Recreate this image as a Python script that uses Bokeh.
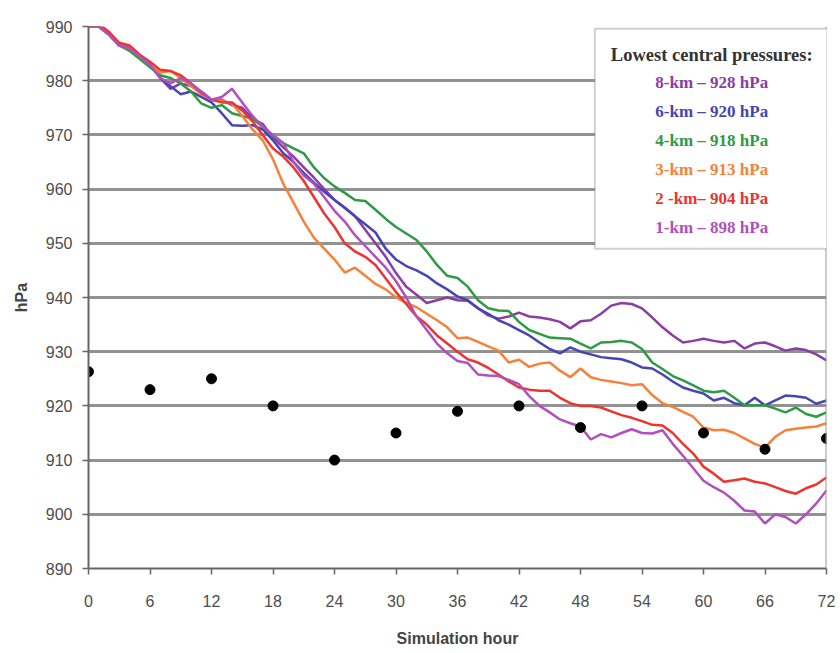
from bokeh.plotting import figure
from bokeh.models import Range1d, FixedTicker, Span, BoxAnnotation, Label
from bokeh.embed import file_html
from bokeh.resources import INLINE

hours = list(range(73))

p_8km = [990, 990, 988.5, 986.5, 986, 984.5, 983, 980.5, 978.5, 979.5, 979, 978, 976.5, 976.5, 975.5, 975,
         973, 972, 969.5, 967.7, 966, 964, 962.1, 960, 958, 956.6, 955, 952.5, 950, 947.5, 944.5, 942,
         940.5, 939, 939.5, 940, 939.5, 939.4, 938, 936.7, 936.1, 936.5, 937.2, 936.5, 936.3, 936, 935.5,
         934.3, 935.6, 935.8, 937, 938.5, 939, 938.8, 938, 936.3, 934.5, 933, 931.7, 932, 932.4, 932,
         931.7, 932, 930.6, 931.5, 931.7, 931, 930.2, 930.6, 930.3, 929.5, 928.4]
p_6km = [990, 990, 988.5, 986.5, 986, 984.5, 983, 980.5, 979, 977.5, 978, 977, 976, 974, 971.8, 971.7,
         971.8, 971, 969, 966.6, 965, 963, 961.2, 959.5, 958, 956.5, 955, 953.5, 952, 949, 947, 945.8,
         945, 944, 942.6, 941.5, 940.2, 939.5, 938, 937, 935.8, 935, 934, 933, 931.7, 930.5, 929.7,
         930.8, 930, 929.5, 929, 928.8, 928.6, 928, 927.1, 926.9, 925.8, 924.5, 923.4, 922.8, 922.3,
         921, 921.5, 920.5, 920.1, 921.5, 920.1, 921, 921.9, 921.8, 921.5, 920.4, 921]
p_4km = [990, 990, 988.5, 986.5, 985.5, 984, 982.5, 981, 980.5, 979.5, 978, 975.8, 975, 975.5, 974, 973.5,
         973, 971.5, 969.8, 968.5, 967.5, 966.6, 964, 962, 960.5, 959.3, 958, 957.8, 956.2, 954.5, 953,
         951.8, 950.6, 948.5, 946, 944, 943.6, 942, 939.5, 938, 937.6, 937.5, 935.5, 934, 933.3, 932.6,
         932.5, 932.4, 931.5, 930.6, 931.7, 931.8, 932, 931.7, 930.5, 928, 926.8, 925.5, 924.7, 923.8,
         922.8, 922.5, 922.8, 921.5, 920.1, 920.1, 920.1, 919.5, 918.8, 919.7, 918.5, 918, 918.8]
p_3km = [990, 990, 988.5, 986.5, 986, 984.5, 983, 981.5, 981.8, 980.5, 979, 977.5, 976.5, 976.3, 975.8,
         973.5, 971, 969, 965.5, 961, 957.5, 954, 951, 949, 947, 944.6, 945.5, 944, 942.5, 941.5, 940,
         939, 938.2, 937, 935.8, 934.5, 932.5, 932.6, 931.8, 931, 930.2, 928, 928.5, 927.2, 927.8, 928,
         926.5, 925.3, 926.9, 925.3, 924.8, 924.5, 924.2, 923.8, 924, 922, 920.5, 919.8, 918.9, 918,
         916, 915.5, 915.6, 915, 914, 913, 912.3, 914.3, 915.5, 915.8, 916, 916.2, 916.8]
p_2km = [990, 990.5, 989, 987, 986.5, 984.8, 983.5, 982, 981.8, 981, 979.5, 977.8, 976.5, 976, 976,
         974.5, 972.5, 970, 967.5, 966, 964, 961.5, 958.5, 955.5, 953, 950, 948.5, 947.5, 946, 943.5,
         941, 938.8, 936.5, 935, 933, 931.5, 930, 928.6, 928, 927, 925.8, 924.5, 923.4, 923, 922.8,
         922.8, 921.5, 920.5, 920, 920, 919.7, 919, 918.3, 917.8, 917.2, 916.5, 916.4, 915, 913, 911.2,
         908.8, 907.5, 906, 906.3, 906.6, 906, 905.7, 905, 904.3, 903.8, 904.8, 905.5, 906.8]
p_1km = [990, 990, 988.5, 986.5, 986, 984.5, 983, 980.5, 979.5, 980.5, 979.5, 978, 976.5, 977, 978.5,
         976, 973.5, 971.5, 970, 968.5, 965, 962.5, 961, 958.5, 956, 954, 951.5, 949.5, 947.5, 945.5,
         943, 940, 936.5, 934, 931.5, 929.7, 928.3, 927.9, 925.8, 925.6, 925.5, 924.8, 924, 921.8, 920,
         918.8, 917.5, 916.8, 916.2, 913.8, 914.8, 914.2, 915, 915.7, 915, 914.9, 915.5, 913, 910.8,
         908.5, 906.2, 905, 904, 902.5, 900.7, 900.5, 898.3, 900, 899.5, 898.3, 900, 902, 904.4]

obs_hours = [0, 6, 12, 18, 24, 30, 36, 42, 48, 54, 60, 66, 72]
obs_pressure = [926.3, 923, 925, 920, 910, 915, 919, 920, 916, 920, 915, 912, 914]

legend_title = "Lowest central pressures:"
legend_labels = ["8-km – 928 hPa", "6-km – 920 hPa", "4-km – 918 hPa",
                 "3-km – 913 hPa", "2 -km– 904 hPa", "1-km – 898 hPa"]
series_values = [p_8km, p_6km, p_4km, p_3km, p_2km, p_1km]
series_colors = ["#8B3DA6", "#4545B5", "#2F9A45", "#F4823A", "#EC3430", "#B24FBE"]

x_ticks = list(range(0, 73, 6))
y_ticks = list(range(890, 991, 10))

p = figure(width=840, height=653, output_backend="svg", toolbar_location=None,
           x_range=Range1d(0, 72), y_range=Range1d(890, 990),
           min_border_left=88, min_border_right=14, min_border_top=26, min_border_bottom=85)
p.outline_line_color = None
p.background_fill_color = "white"
p.border_fill_color = "white"

p.xgrid.grid_line_color = None
p.ygrid.ticker = FixedTicker(ticks=y_ticks)
p.ygrid.grid_line_color = "#929292"
p.ygrid.grid_line_width = 2.8

p.xaxis.ticker = FixedTicker(ticks=x_ticks)
p.yaxis.ticker = FixedTicker(ticks=y_ticks)
for ax in (p.xaxis, p.yaxis):
    ax.axis_line_color = "#666666"
    ax.axis_line_width = 2
    ax.major_tick_line_color = "#666666"
    ax.major_tick_line_width = 1.5
    ax.major_tick_out = 6
    ax.major_tick_in = 0
    ax.minor_tick_line_color = None
    ax.major_label_text_font = "Liberation Sans"
    ax.major_label_text_font_size = "16px"
    ax.major_label_text_color = "#4d4d4d"
    ax.axis_label_text_font = "Liberation Sans"
    ax.axis_label_text_font_style = "bold"
    ax.axis_label_text_font_size = "16px"
    ax.axis_label_text_color = "#444444"
p.xaxis.major_label_standoff = 20
p.yaxis.major_label_standoff = 10
p.xaxis.axis_label = "Simulation hour"
p.yaxis.axis_label = "hPa"
p.xaxis.axis_label_standoff = 20
p.yaxis.axis_label_standoff = 13

p.add_layout(Span(location=72, dimension="height", line_color="#9a9a9a", line_width=2))

for vals, col in zip(series_values, series_colors):
    p.line(hours, vals, line_color=col, line_width=2.5)

p.scatter(obs_hours, obs_pressure, size=10, color="black")

p.add_layout(BoxAnnotation(left=49.4, right=72.1, top=989.6, bottom=949.0,
                           fill_color="white", fill_alpha=1.0,
                           line_color="#666666", line_width=2))
cx = 60.8
p.add_layout(Label(x=cx, y=984.8, text=legend_title, text_align="center", text_baseline="middle",
                   text_font="Liberation Serif", text_font_style="bold", text_font_size="18.5px",
                   text_color="#333333"))
for i, (lab, col) in enumerate(zip(legend_labels, series_colors)):
    p.add_layout(Label(x=cx, y=979.7 - i * 5.36, text=lab, text_align="center", text_baseline="middle",
                       text_font="Liberation Serif", text_font_style="bold", text_font_size="17px",
                       text_color=col))

open("out.html", "w").write(file_html(p, INLINE))
